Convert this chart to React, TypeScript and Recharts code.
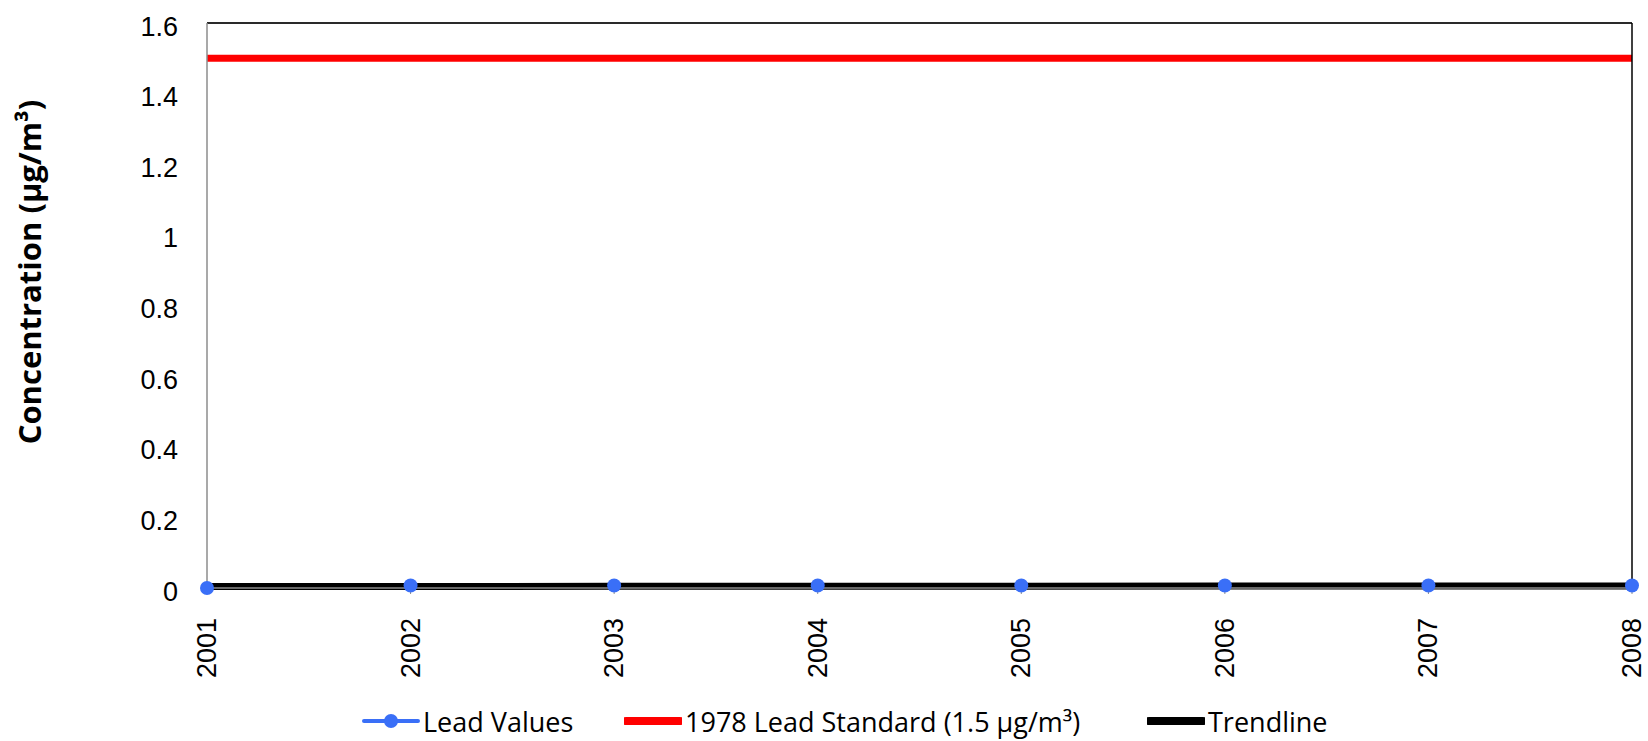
import { CartesianGrid, Legend, Line, LineChart, ReferenceLine, XAxis, YAxis } from 'recharts'

const years = ['2001', '2002', '2003', '2004', '2005', '2006', '2007', '2008']
const leadValues = [0, 0.007, 0.007, 0.007, 0.007, 0.007, 0.007, 0.007]
const standardValues = [1.5, 1.5, 1.5, 1.5, 1.5, 1.5, 1.5, 1.5]
const trendValues = [0.004, 0.004, 0.005, 0.005, 0.005, 0.006, 0.006, 0.006]
const yTicks = [0, 0.2, 0.4, 0.6, 0.8, 1, 1.2, 1.4, 1.6]

const rows = years.map((year, i) => ({
  year,
  lead: leadValues[i],
  standard: standardValues[i],
  trend: trendValues[i],
}))

const tickFont = '"Liberation Sans", Arial, sans-serif'
const labelFont = '"Open Sans", sans-serif'

function YearTick({ x, y, payload }: any) {
  return (
    <g transform={`translate(${x},${y + 22})`}>
      <text transform="rotate(-90)" textAnchor="end" dy={9} fontSize={27} fontFamily={tickFont} fill="#000">
        {payload.value}
      </text>
    </g>
  )
}

function LegendRow() {
  const item = (color: string, width: number, dot: boolean, text: string, left: number) => (
    <div style={{ position: 'absolute', left, top: 6, display: 'flex', alignItems: 'center', height: 40 }}>
      <svg width={58} height={20}>
        <line x1={2} y1={10} x2={56} y2={10} stroke={color} strokeWidth={width} strokeLinecap="round" />
        {dot && <circle cx={29} cy={10} r={7} fill={color} />}
      </svg>
      <span style={{ fontFamily: labelFont, fontSize: 27, color: '#000', marginLeft: 3, whiteSpace: 'nowrap' }}>{text}</span>
    </div>
  )
  return (
    <div style={{ position: 'relative', width: 1648, height: 40 }}>
      {item('#3a6ff7', 4, true, 'Lead Values', 362)}
      {item('#ff0000', 8, false, '1978 Lead Standard (1.5 µg/m³)', 624)}
      {item('#000000', 8, false, 'Trendline', 1147)}
    </div>
  )
}

export default function App() {
  return (
    <div style={{ position: 'absolute', left: 0, top: 0, width: 1648, height: 741, background: '#fff' }}>
      <LineChart width={1648} height={741} data={rows} margin={{ top: 23, right: 0, left: 0, bottom: 0 }}>
        <CartesianGrid vertical={false} stroke="#8c8c8c" strokeWidth={1.5} />
        <XAxis
          dataKey="year"
          height={104}
          tick={<YearTick />}
          tickLine={{ stroke: '#8c8c8c' }}
          tickSize={6}
          axisLine={{ stroke: '#8c8c8c', strokeWidth: 1.5 }}
          interval={0}
        />
        <YAxis
          yAxisId="left"
          width={207}
          domain={[0, 1.6]}
          ticks={yTicks}
          tickLine={false}
          axisLine={{ stroke: '#8c8c8c', strokeWidth: 1.5 }}
          tick={{ fontSize: 27, fontFamily: tickFont, fill: '#000', dy: 3 }}
          tickMargin={23}
          label={() => (
            <text
              transform={`translate(41, 272) rotate(-90)`}
              textAnchor="middle"
              fontSize={31}
              fontWeight={700}
              fontFamily={labelFont}
              fill="#000"
            >
              Concentration (µg/m³)
            </text>
          )}
        />
        <YAxis yAxisId="right" orientation="right" width={16} domain={[0, 1.6]} tick={false} tickLine={false} axisLine={{ stroke: '#000', strokeWidth: 1.5 }} />
        <ReferenceLine yAxisId="left" y={1.6} stroke="#000" strokeWidth={1.5} />
        <Line yAxisId="left" dataKey="standard" stroke="#ff0000" strokeWidth={7} dot={false} isAnimationActive={false} />
        <Line yAxisId="left" dataKey="lead" stroke="#3a6ff7" strokeWidth={3} dot={{ r: 7, fill: '#3a6ff7', stroke: '#3a6ff7', strokeWidth: 0 }} isAnimationActive={false} />
        <Line yAxisId="left" dataKey="trend" stroke="#000" strokeWidth={7} dot={false} isAnimationActive={false} />
        <Legend verticalAlign="bottom" height={46} content={() => <LegendRow />} wrapperStyle={{ left: 0, width: 1648, paddingTop: 3 }} />
      </LineChart>
    </div>
  )
}
